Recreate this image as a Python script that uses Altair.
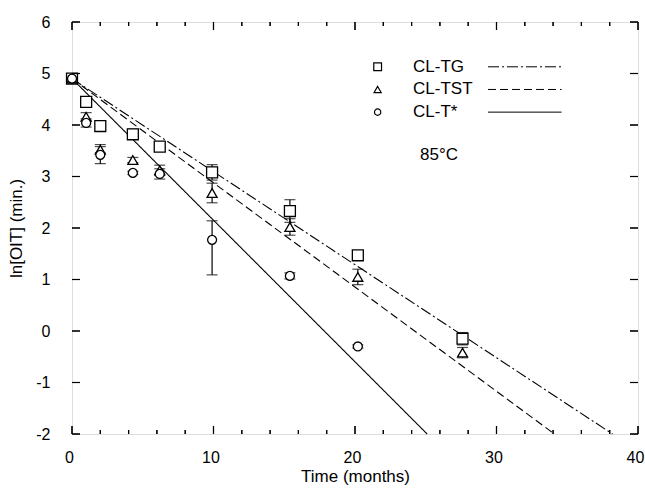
import altair as alt
import pandas as pd

# ---- data ----
t_tg = [0, 1.0, 2.0, 4.3, 6.2, 9.9, 15.4, 20.2, 27.6]
y_tg = [4.9, 4.45, 3.98, 3.82, 3.58, 3.08, 2.33, 1.47, -0.15]
e_tg = [0.05, 0.08, 0.05, 0.10, 0.08, 0.15, 0.22, 0.06, 0.12]

t_tst = [0, 1.0, 2.0, 4.3, 6.2, 9.9, 15.4, 20.2, 27.6]
y_tst = [4.9, 4.16, 3.52, 3.32, 3.12, 2.68, 2.02, 1.05, -0.42]
e_tst = [0.05, 0.08, 0.06, 0.05, 0.10, 0.19, 0.16, 0.15, 0.10]

t_ts = [0, 1.0, 2.0, 4.3, 6.2, 9.9, 15.4, 20.2]
y_ts = [4.9, 4.04, 3.42, 3.07, 3.05, 1.77, 1.07, -0.30]
lo_ts = [4.85, 3.96, 3.25, 3.04, 2.95, 1.09, 1.01, -0.33]
hi_ts = [4.95, 4.12, 3.62, 3.10, 3.15, 2.14, 1.13, -0.27]

# fitted lines (endpoints)
fit_tg_x = [0, 38.2]
fit_tg_y = [4.9, -2.0]
fit_tst_x = [0, 34.1]
fit_tst_y = [4.9, -2.0]
fit_ts_x = [0, 25.1]
fit_ts_y = [4.9, -2.0]

series = ["CL-TG", "CL-TST", "CL-T*"]

x_major = [0, 10, 20, 30, 40]
x_minor = [2, 4, 6, 8, 12, 14, 16, 18, 22, 24, 26, 28, 32, 34, 36, 38]
y_major = [-2, -1, 0, 1, 2, 3, 4, 5, 6]

W, H = 566, 412
FONT = "Liberation Sans"
XMIN, XMAX, YMIN, YMAX = 0, 40, -2, 6
XT = "Time (months)"
YT = "ln[OIT] (min.)"

xs = alt.Scale(domain=[XMIN, XMAX], nice=False, zero=False)
ys = alt.Scale(domain=[YMIN, YMAX], nice=False, zero=False)

xaxis = alt.Axis(values=x_major, ticks=False, domain=False, grid=False,
                 labelExpr="'' + datum.value", labelFlush=False, labelOffset=-3,
                 labelFont=FONT, labelFontSize=16, labelColor="black",
                 labelPadding=15, titleFont=FONT, titleFontSize=17,
                 titleFontWeight="normal", titleColor="black", titlePadding=3)
yaxis = alt.Axis(values=y_major, ticks=False, domain=False, grid=False,
                 labelExpr="'' + datum.value", labelFlush=False,
                 labelFont=FONT, labelFontSize=16, labelColor="black",
                 labelPadding=22, titleFont=FONT, titleFontSize=17,
                 titleFontWeight="normal", titleColor="black", titlePadding=10)


def X(f="t"):
    return alt.X(f"{f}:Q", scale=xs, title=XT, axis=xaxis)


def Y(f="y"):
    return alt.Y(f"{f}:Q", scale=ys, title=YT, axis=yaxis)


rows = []
for t, y, e in zip(t_tg, y_tg, e_tg):
    rows.append(dict(s="CL-TG", t=t, y=y, lo=y - e, hi=y + e))
for t, y, e in zip(t_tst, y_tst, e_tst):
    rows.append(dict(s="CL-TST", t=t, y=y, lo=y - e, hi=y + e))
for t, y, lo, hi in zip(t_ts, y_ts, lo_ts, hi_ts):
    rows.append(dict(s="CL-T*", t=t, y=y, lo=lo, hi=hi))
pts = pd.DataFrame(rows)

# fit lines plus the frame's inside ticks, drawn by the same line layer
ux = (XMAX - XMIN) / W
uy = (YMAX - YMIN) / H
fit_rows = (
    [dict(s="CL-TG", t=a, y=b) for a, b in zip(fit_tg_x, fit_tg_y)]
    + [dict(s="CL-TST", t=a, y=b) for a, b in zip(fit_tst_x, fit_tst_y)]
    + [dict(s="CL-T*", t=a, y=b) for a, b in zip(fit_ts_x, fit_ts_y)]
)
for v in x_major:
    fit_rows += [dict(s=f"tb{v}", t=v, y=YMIN), dict(s=f"tb{v}", t=v, y=YMIN + 8 * uy)]
    fit_rows += [dict(s=f"tt{v}", t=v, y=YMAX), dict(s=f"tt{v}", t=v, y=YMAX - 8 * uy)]
for v in x_minor:
    fit_rows += [dict(s=f"mb{v}", t=v, y=YMIN), dict(s=f"mb{v}", t=v, y=YMIN + 4 * uy)]
    fit_rows += [dict(s=f"mt{v}", t=v, y=YMAX), dict(s=f"mt{v}", t=v, y=YMAX - 4 * uy)]
for v in y_major:
    fit_rows += [dict(s=f"tl{v}", t=XMIN, y=v), dict(s=f"tl{v}", t=XMIN + 8 * ux, y=v)]
    fit_rows += [dict(s=f"tr{v}", t=XMAX - 8 * ux, y=v), dict(s=f"tr{v}", t=XMAX, y=v)]
fits = pd.DataFrame(fit_rows)

shapes = alt.Scale(domain=series, range=["square", "triangle-up", "circle"])
dashes = alt.Scale(domain=series, range=[[11, 3, 2, 3], [8, 4], [1, 0]])

lines = alt.Chart(fits).mark_line(color="black", strokeWidth=1.1).encode(
    x=X(), y=Y(), detail="s:N",
    strokeDash=alt.condition(
        "indexof(['CL-TG','CL-TST','CL-T*'], datum.s) >= 0",
        alt.StrokeDash("s:N", scale=dashes, legend=None),
        alt.value([1, 0])))

# second way of drawing the same ticks: path-shaped point symbols
tick_pts = []
for v in x_major:
    tick_pts += [dict(k="up8", t=v, y=YMIN), dict(k="down8", t=v, y=YMAX)]
for v in x_minor:
    tick_pts += [dict(k="up4", t=v, y=YMIN), dict(k="down4", t=v, y=YMAX)]
for v in y_major:
    tick_pts += [dict(k="right8", t=XMIN, y=v), dict(k="left8", t=XMAX, y=v)]
tick_df = pd.DataFrame(tick_pts)
tk_dom = ["up8", "down8", "up4", "down4", "right8", "left8"]
tk_rng = ["M0,0L0,-1", "M0,0L0,1", "M0,0L0,-0.5", "M0,0L0,0.5", "M0,0L1,0", "M0,0L-1,0"]
tick_marks = alt.Chart(tick_df).mark_point(filled=False, color="black", strokeWidth=1.2,
                                           opacity=1, size=256).encode(
    x=X(), y=Y(), shape=alt.Shape("k:N", scale=alt.Scale(domain=tk_dom, range=tk_rng), legend=None))

ebar = alt.Chart(pts).mark_rule(color="black", strokeWidth=1.2).encode(
    x=X(), y=Y("lo"), y2="hi:Q")
cap_lo = alt.Chart(pts).mark_tick(color="black", orient="horizontal", size=11, thickness=1.2).encode(
    x=X(), y=Y("lo"))
cap_hi = alt.Chart(pts).mark_tick(color="black", orient="horizontal", size=11, thickness=1.2).encode(
    x=X(), y=Y("hi"))

marks = alt.Chart(pts).mark_point(filled=False, fill="white", fillOpacity=1,
                                   color="black", strokeWidth=1.3, opacity=1).encode(
    x=X(), y=Y(),
    shape=alt.Shape("s:N", scale=shapes, legend=None),
    size=alt.Size("s:N", scale=alt.Scale(domain=series, range=[120, 80, 90]), legend=None))

# hand-made legend (in data coordinates)
leg = pd.DataFrame({
    "s": series,
    "mx": [21.6] * 3, "tx": [24.1] * 3, "l1": [29.4] * 3, "l2": [34.6] * 3,
    "y": [5.13, 4.69, 4.25],
})
leg_sym = alt.Chart(leg).mark_point(filled=False, color="black", strokeWidth=1.2, opacity=1).encode(
    x=X("mx"), y=Y(),
    shape=alt.Shape("s:N", scale=shapes, legend=None),
    size=alt.Size("s:N", scale=alt.Scale(domain=series, range=[60, 40, 40]), legend=None))
leg_txt = alt.Chart(leg).mark_text(align="left", baseline="middle", font=FONT, fontSize=17,
                                   color="black").encode(x=X("tx"), y=Y(), text="s:N")
leg_line = alt.Chart(leg).mark_rule(color="black", strokeWidth=1).encode(
    x=X("l1"), x2="l2:Q", y=Y(),
    strokeDash=alt.StrokeDash("s:N", scale=dashes, legend=None))

temp = alt.Chart(pd.DataFrame({"t": [24.6], "y": [3.42], "txt": ["85°C"]})).mark_text(
    align="left", baseline="middle", font=FONT, fontSize=17, color="black").encode(
    x=X(), y=Y(), text="txt:N")

chart = alt.layer(
    lines, ebar, cap_lo, cap_hi, marks,
    leg_sym, leg_txt, leg_line, temp, tick_marks,
).resolve_scale(size="independent", shape="independent").properties(
    width=W, height=H,
    padding={"left": 72, "top": 22, "right": 7, "bottom": 55},
    autosize=alt.AutoSizeParams(type="none"),
).configure_view(stroke="black", strokeWidth=1.5).configure(background="white")

chart.save("out.html", embed_options={"renderer": "svg", "actions": False})
